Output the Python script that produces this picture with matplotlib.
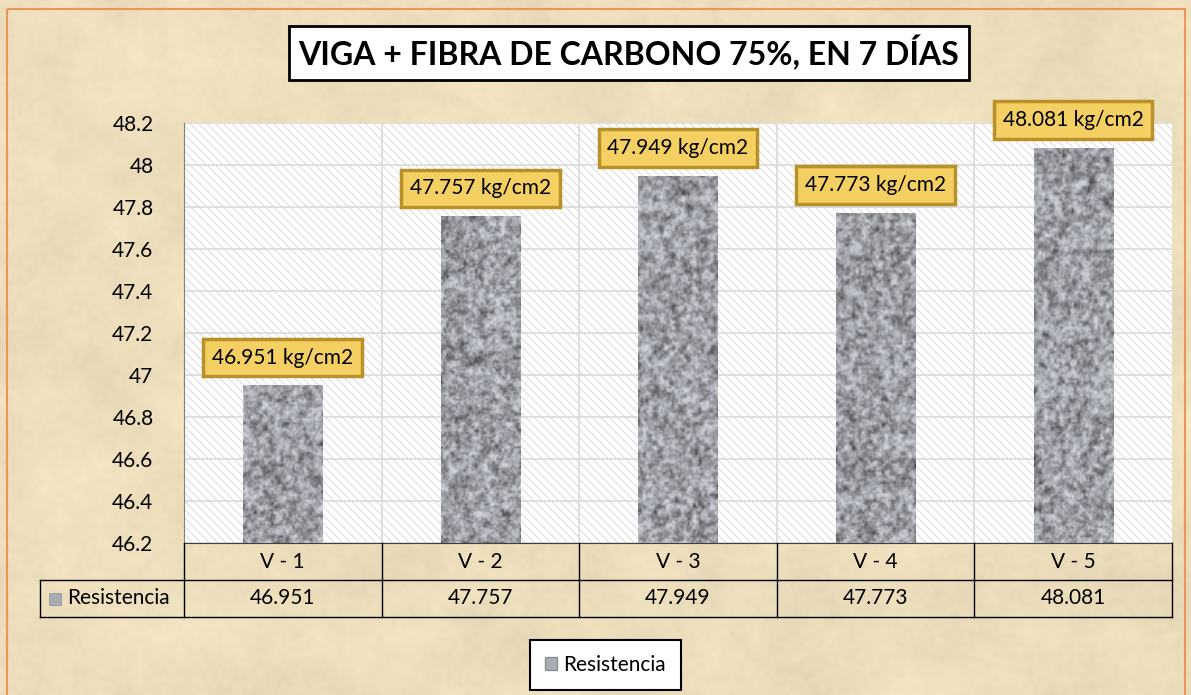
import numpy as np
import matplotlib.pyplot as plt
from matplotlib.patches import Rectangle
from matplotlib.lines import Line2D
import matplotlib.transforms as mtransforms

plt.rcParams['font.family'] = ['Lato', 'DejaVu Sans']
plt.rcParams['hatch.linewidth'] = 0.6

categorias = ["V - 1", "V - 2", "V - 3", "V - 4", "V - 5"]
resistencia = [46.951, 47.757, 47.949, 47.773, 48.081]
etiquetas = ["%.3f kg/cm2" % v for v in resistencia]
yticks = [46.2, 46.4, 46.6, 46.8, 47, 47.2, 47.4, 47.6, 47.8, 48, 48.2]
titulo = "VIGA + FIBRA DE CARBONO 75%, EN 7 DÍAS"
serie = "Resistencia"

W, H = 1191, 695
fig = plt.figure(figsize=(W / 100, H / 100), dpi=100)


def px(x0, y0, x1, y1):
    # caja en pixeles (origen arriba-izq) -> fraccion de figura
    return [x0 / W, 1 - y1 / H, (x1 - x0) / W, (y1 - y0) / H]


def upsample(a, h, w):
    # bilinear simple
    yi = np.linspace(0, a.shape[0] - 1, h)
    xi = np.linspace(0, a.shape[1] - 1, w)
    tmp = np.array([np.interp(xi, np.arange(a.shape[1]), row) for row in a])
    return np.array([np.interp(yi, np.arange(a.shape[0]), col) for col in tmp.T]).T


def textura(h, w, seed, scales):
    rng = np.random.default_rng(seed)
    out = np.zeros((h, w))
    for s, amp in scales:
        small = rng.random((h // s + 2, w // s + 2))
        out += amp * upsample(small, h, w)
    return out


# fondo tipo pergamino
bg = fig.add_axes([0, 0, 1, 1], zorder=-10)
n = textura(H, W, 1, [(60, 0.45), (20, 0.3), (5, 0.25)])
base = np.array([237, 222, 188]) / 255.0
img = base[None, None, :] + (n[..., None] - 0.5) * np.array([0.10, 0.09, 0.08])
bg.imshow(np.clip(img, 0, 1), aspect='auto', extent=[0, W, H, 0])
bg.set_xlim(0, W)
bg.set_ylim(H, 0)
bg.axis('off')
bg.add_patch(Rectangle((7, 9), 1178, 700, fill=False, edgecolor='#e8965a', lw=1.5))

# area de trazado
ax = fig.add_axes(px(184, 123, 1172, 543))
x = np.arange(len(categorias))
ax.set_xlim(-0.5, len(categorias) - 0.5)
ax.set_ylim(46.2, 48.2)
ax.set_facecolor('white')
ax.add_patch(Rectangle((0, 0), 1, 1, transform=ax.transAxes, facecolor='white',
                       edgecolor='#d4d4d4', hatch='\\\\\\\\', lw=0, zorder=0))
ax.set_yticks(yticks)
ax.set_yticklabels(["%g" % t for t in yticks], fontsize=15)
ax.tick_params(axis='y', length=0, pad=22)
ax.set_xticks([])
for t in yticks:
    ax.axhline(t, color='#d9d9d9', lw=1.2, zorder=0.5)
for b in np.arange(0.5, len(categorias) - 0.5, 1):
    ax.axvline(b, color='#d9d9d9', lw=1.2, zorder=0.5)
for s in ['top', 'right']:
    ax.spines[s].set_visible(False)
ax.spines['left'].set_color('#808080')
ax.spines['bottom'].set_color('#404040')

bars = ax.bar(x, np.array(resistencia) - 46.2, bottom=46.2, width=0.4,
              color='#a0a0a0', zorder=2)
# textura granito en las barras
for i, b in enumerate(bars):
    gran = textura(420, 80, 10 + i, [(6, 0.4), (3, 0.35), (2, 0.25)])
    g = 0.84 - 0.85 * np.clip((1 - gran) - 0.2, 0, 1) ** 1.2
    rgb = np.stack([g * 0.97, g * 0.98, g * 1.02], axis=-1)
    im = ax.imshow(np.clip(rgb, 0, 1), aspect='auto',
                   extent=[b.get_x(), b.get_x() + b.get_width(), 46.2, 48.2],
                   zorder=2.5, interpolation='bilinear')
    im.set_clip_path(b)

for xi, v, lab in zip(x, resistencia, etiquetas):
    yl = min(v, 48.2 - 0.03)
    ax.annotate(lab, (xi, yl), xytext=(0, 20), textcoords='offset points',
                ha='center', va='center', fontsize=15, zorder=5, annotation_clip=False,
                bbox=dict(boxstyle='square,pad=0.42', facecolor='#f4d062',
                          edgecolor='#b8912a', lw=2.5))

# tabla de datos
blend = mtransforms.blended_transform_factory(ax.transData, fig.transFigure)
ylines = [1 - 543 / H, 1 - 580 / H, 1 - 617 / H]
xl = -0.5 - (184 - 40) / ((1172 - 184) / len(categorias))
for edge in np.arange(-0.5, len(categorias), 1):
    fig.add_artist(Line2D([edge, edge], [ylines[0], ylines[2]], transform=blend,
                          color='black', lw=1))
fig.add_artist(Line2D([xl, 4.5], [ylines[1]] * 2, transform=blend, color='black', lw=1))
fig.add_artist(Line2D([xl, 4.5], [ylines[2]] * 2, transform=blend, color='black', lw=1))
fig.add_artist(Line2D([xl, xl], [ylines[1], ylines[2]], transform=blend, color='black', lw=1))
ym1 = (ylines[0] + ylines[1]) / 2
ym2 = (ylines[1] + ylines[2]) / 2
for xi, c, v in zip(x, categorias, resistencia):
    fig.text(xi, ym1, c, transform=blend, ha='center', va='center', fontsize=15)
    fig.text(xi, ym2, "%.3f" % v, transform=blend, ha='center', va='center', fontsize=15)
fig.add_artist(Rectangle((49 / W, ym2 - 6 / H), 12 / W, 12 / H, transform=fig.transFigure,
                         facecolor='#a8adb3', edgecolor='#8a8f95', lw=0.5))
fig.text(67 / W, ym2, serie, ha='left', va='center', fontsize=15)

# titulo
fig.text((288 + 970) / 2 / W, 1 - 53 / H, titulo, ha='center', va='center',
         fontsize=23, fontweight='bold',
         bbox=dict(boxstyle='square,pad=0.3', facecolor='white', edgecolor='black', lw=2))

# leyenda
leg = fig.legend([Rectangle((0, 0), 1, 1, facecolor='#a8adb3', edgecolor='#8a8f95')],
                 [serie], loc='center', bbox_to_anchor=((523 + 688) / 2 / W, 1 - 665 / H),
                 fontsize=15, frameon=True, fancybox=False, handlelength=0.6,
                 handleheight=0.6, handletextpad=0.3, borderpad=0.7)
leg.get_frame().set_edgecolor('black')
leg.get_frame().set_linewidth(1.5)
leg.get_frame().set_facecolor('white')
leg.get_frame().set_alpha(1)

fig.savefig('out.png', dpi=100)
